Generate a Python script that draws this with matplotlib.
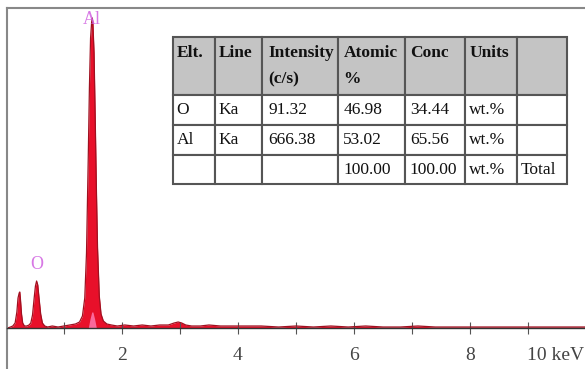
import matplotlib.pyplot as plt
import numpy as np

# EDS spectrum (energy in keV, counts in arbitrary units)
energy = [0.03, 0.08, 0.12, 0.16, 0.19, 0.21, 0.23, 0.24, 0.25, 0.27, 0.29, 0.32, 0.36, 0.40,
          0.43, 0.46, 0.49, 0.51, 0.53, 0.55, 0.57, 0.60, 0.63, 0.67, 0.72, 0.80, 0.90, 1.00,
          1.10, 1.20, 1.27, 1.32, 1.36, 1.39, 1.42, 1.44, 1.46, 1.48, 1.49, 1.50, 1.52, 1.54,
          1.56, 1.58, 1.61, 1.64, 1.68, 1.74, 1.82, 1.92, 2.05, 2.2, 2.35, 2.5, 2.65, 2.8,
          2.9, 2.97, 3.03, 3.1, 3.2, 3.35, 3.5, 3.7, 3.9, 4.1, 4.4, 4.7, 5.0, 5.3, 5.6, 5.9,
          6.2, 6.5, 6.8, 7.1, 7.4, 7.7, 8.0, 8.3, 8.6, 8.9, 9.2, 9.5, 9.8, 10.0]
counts = [0, 1, 2, 5, 16, 30, 35, 36, 30, 14, 5, 2, 2, 3,
          5, 13, 31, 42, 47, 43, 31, 14, 5, 2, 1, 2, 1, 2,
          3, 4, 6, 12, 30, 75, 170, 240, 290, 307, 310, 305, 275, 210,
          140, 80, 32, 14, 7, 4, 3, 2, 3, 2, 3, 2, 3, 3,
          5, 6, 5, 3, 2, 2, 3, 2, 2, 2, 2, 1, 2, 1, 2, 1,
          2, 1, 1, 2, 1, 1, 1, 1, 1, 1, 1, 1, 1, 1]

# K-beta marker region inside the Al peak
kb_energy = [1.42, 1.45, 1.48, 1.50, 1.53, 1.56]
kb_counts = [0, 9, 16, 16, 9, 0]

# element labels
peak_names = ["O", "Al"]
peak_pos = [0.53, 1.49]
peak_lab_y = [55, 300]

# quantification table
col_labels = ["Elt.\n ", "Line\n ", "Intensity\n(c/s)", "Atomic\n%", "Conc\n ", "Units\n ", ""]
rows = [["O", "Ka", "91.32", "46.98", "34.44", "wt.%", ""],
        ["Al", "Ka", "666.38", "53.02", "65.56", "wt.%", ""],
        ["", "", "", "100.00", "100.00", "wt.%", "Total"]]

serif = ["Liberation Serif", "DejaVu Serif"]

fig = plt.figure(figsize=(5.85, 3.69), dpi=100)
ax = fig.add_axes([7/585, 0, 578/585, 361/369])

ax.fill_between(energy, counts, color="#e8102a", lw=0)
ax.plot(energy, counts, color="#a01020", lw=0.9)
ax.fill_between(kb_energy, kb_counts, color="#ff80b8", lw=0, alpha=0.8)

for name, x, y in zip(peak_names, peak_pos, peak_lab_y):
    ax.text(x, y, name, color="#d060e0", fontsize=13, ha="center", va="bottom",
            family=serif, alpha=0.85)

ax.set_xlim(0.02, 9.98)
ax.set_ylim(-41, 320)

ax.spines["bottom"].set_position(("data", 0))
ax.spines["bottom"].set_color("#333333")
ax.spines["bottom"].set_linewidth(1.0)
ax.spines["right"].set_visible(False)
for s in ["top", "left"]:
    ax.spines[s].set_color("#888888")
    ax.spines[s].set_linewidth(1.5)

ax.set_xticks([2, 4, 6, 8])
ax.set_xticklabels(["2", "4", "6", "8"], family=serif, fontsize=14, color="#444444")
ax.set_xticks([1, 3, 5, 7, 9], minor=True)
ax.tick_params(axis="x", which="both", direction="inout", length=9, width=0.8,
               color="#555555", pad=9)
ax.set_yticks([])
fig.text(584, 369 - 355, "10 keV", transform=None, ha="right", va="center",
         family=serif, fontsize=14, color="#444444")

tb = ax.table(cellText=[col_labels] + rows, cellLoc="left",
              colWidths=[42, 47, 76, 67, 60, 52, 50],
              bbox=[166/578, 185/361, 394/578, 147/361])
tb.auto_set_font_size(False)
row_h = [58, 30, 30, 29]
for (r, c), cell in tb.get_celld().items():
    cell.set_height(row_h[r])
    cell.set_edgecolor("#555555")
    cell.set_linewidth(1.5)
    cell.PAD = 0.08
    cell.get_text().set_fontfamily(serif)
    cell.get_text().set_fontsize(12.5)
    cell.get_text().set_color("#111111")
    if r == 0:
        cell.set_facecolor("#c4c4c4")
        cell.get_text().set_fontweight("bold")
        cell.get_text().set_linespacing(1.9)
    else:
        cell.set_facecolor("white")

fig.savefig("out.png", dpi=100)
